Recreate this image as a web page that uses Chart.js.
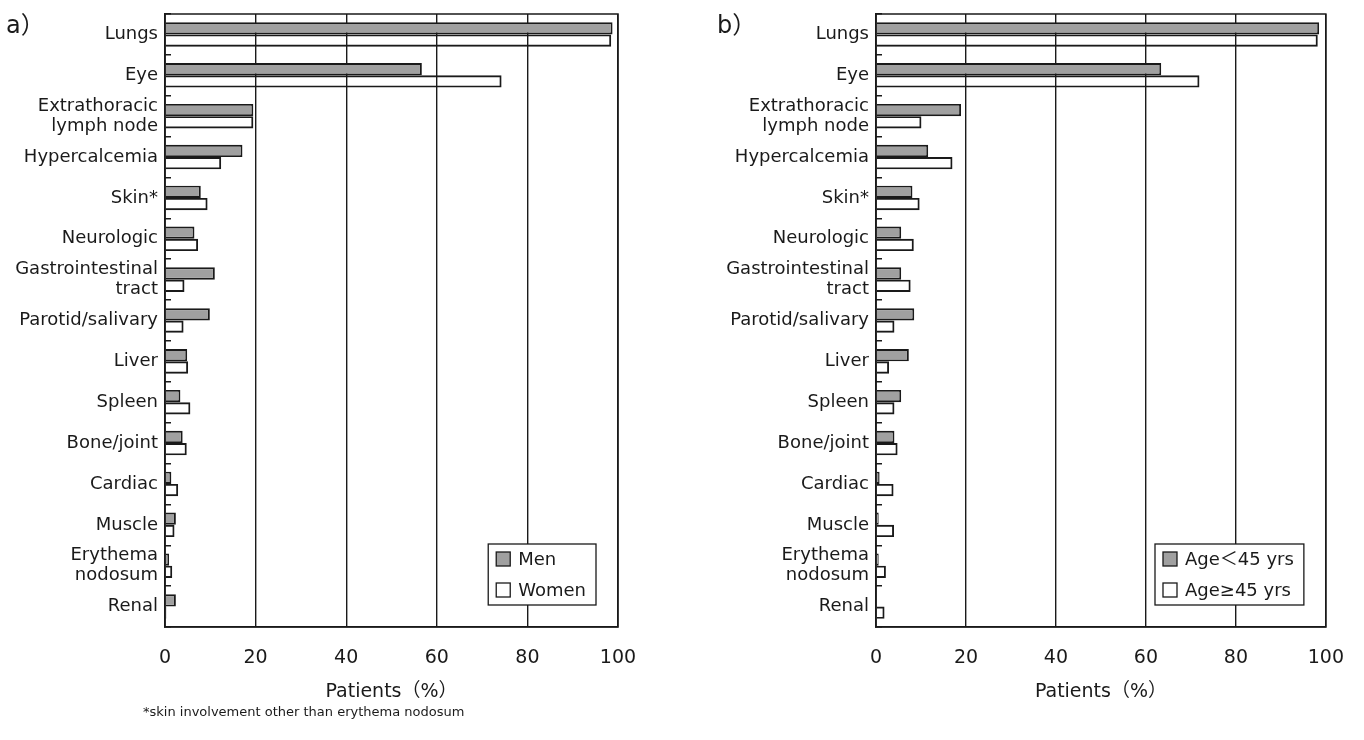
<!DOCTYPE html>
<html>
<head>
<meta charset="utf-8">
<script src="https://cdn.jsdelivr.net/npm/chart.js@4.4.1/dist/chart.umd.min.js"></script>
<style>
  body { margin: 0; background: #fff; }
  #wrap { position: relative; width: 1364px; height: 740px; overflow: hidden; }
  canvas { position: absolute; top: 0; }
  .tag { position: absolute; font: 24px "DejaVu Sans", "Noto Sans CJK JP", sans-serif; color: #1a1a1a; line-height: 24px; }
  .note { position: absolute; left: 143px; top: 704px; font: 13px "DejaVu Sans", sans-serif; color: #1a1a1a; line-height: 15px; }
</style>
</head>
<body>
<div id="wrap">
  <canvas id="chartA" width="682" height="740" style="left:0"></canvas>
  <canvas id="chartB" width="654" height="740" style="left:710px"></canvas>
  <div class="tag" style="left:6px;top:13px">a）</div>
  <div class="tag" style="left:717px;top:13px">b）</div>
  <div class="note">*skin involvement other than erythema nodosum</div>
</div>
<script>
// categories (top to bottom)
const organs = ["Lungs", "Eye", ["Extrathoracic", "lymph node"], "Hypercalcemia", "Skin*",
  "Neurologic", ["Gastrointestinal", "tract"], "Parotid/salivary", "Liver", "Spleen",
  "Bone/joint", "Cardiac", "Muscle", ["Erythema", "nodosum"], "Renal"];

// a) by sex, % of patients
const men   = [98.8, 56.7, 19.5, 17.1, 7.9, 6.5, 11.0, 9.9, 4.9, 3.4, 3.9, 1.4, 2.4, 0.9, 2.4];
const women = [98.5, 74.3, 19.5, 12.4, 9.4, 7.3, 4.3, 4.1, 5.1, 5.6, 4.8, 2.9, 2.1, 1.6, 0.3];

// b) by age, % of patients
const under45 = [98.5, 63.4, 18.9, 11.6, 8.1, 5.6, 5.6, 8.5, 7.3, 5.6, 4.1, 0.8, 0.6, 0.6, 0];
const over45  = [98.2, 71.9, 10.1, 17.0, 9.7, 8.4, 7.7, 4.1, 2.9, 4.1, 4.8, 3.9, 4.0, 2.2, 1.9];

const xTicks = [0, 20, 40, 60, 80, 100];

const FONT = '"DejaVu Sans", "Noto Sans CJK JP", sans-serif';
const INK = "#1a1a1a";
const GRAY = "#a0a0a0";

// box round the plot (top edge isn't drawn by any axis)
const framePlugin = {
  id: "frame",
  afterDatasetsDraw(chart) {
    const { ctx, chartArea: a } = chart;
    ctx.save();
    ctx.strokeStyle = INK;
    ctx.lineWidth = 1.5;
    ctx.strokeRect(a.left, a.top, a.right - a.left, a.bottom - a.top);
    ctx.restore();
  }
};

// legend in a box, bottom right inside the plot
const boxLegend = {
  id: "boxLegend",
  afterDraw(chart) {
    const { ctx, chartArea: a } = chart;
    const sets = chart.data.datasets;
    ctx.save();
    ctx.font = "18px " + FONT;
    const textW = Math.max(...sets.map(d => ctx.measureText(d.label).width));
    const w = 32 + textW + 8, h = 61, rowH = 31;
    const x = a.right - 22 - w, y = a.bottom - 22 - h;
    ctx.fillStyle = "#fff";
    ctx.fillRect(x, y, w, h);
    ctx.strokeStyle = INK;
    ctx.lineWidth = 1.3;
    ctx.strokeRect(x, y, w, h);
    sets.forEach((d, i) => {
      const cy = y + 15 + i * rowH;
      ctx.fillStyle = d.legendFill;
      ctx.fillRect(x + 8, cy - 7, 14, 14);
      ctx.strokeRect(x + 8, cy - 7, 14, 14);
      ctx.fillStyle = INK;
      ctx.textBaseline = "middle";
      ctx.fillText(d.label, x + 30, cy + 1);
    });
    ctx.restore();
  }
};

function makeChart(id, names, first, second, yWidth, padRight) {
  return new Chart(document.getElementById(id), {
    type: "bar",
    data: {
      labels: organs,
      datasets: [
        { label: names[0], data: first, backgroundColor: GRAY, legendFill: GRAY,
          borderColor: INK, borderWidth: 1.9 },
        { label: names[1], data: second, backgroundColor: "rgba(0,0,0,0)", legendFill: "#fff",
          borderColor: INK, borderWidth: 1.9 }
      ]
    },
    options: {
      indexAxis: "y",
      responsive: false,
      animation: false,
      layout: { padding: { top: 14, right: padRight, bottom: 0, left: 0 } },
      categoryPercentage: 0.6,
      barPercentage: 1.0,
      plugins: { legend: { display: false }, tooltip: { enabled: false } },
      scales: {
        x: {
          min: 0, max: 100,
          afterBuildTicks: s => { s.ticks = xTicks.map(v => ({ value: v })); },
          afterFit: s => { s.height = 113; },
          grid: { color: INK, lineWidth: 1.4, drawTicks: false },
          border: { color: INK, width: 1.5 },
          ticks: { padding: 20, color: INK, font: { family: FONT, size: 19 } },
          title: { display: true, text: "Patients（%）", color: INK,
                   font: { family: FONT, size: 19 }, padding: { top: 0, bottom: 37 } }
        },
        y: {
          afterFit: s => { s.width = yWidth; s.paddingTop = 0; s.paddingBottom = 0; },
          grid: { drawOnChartArea: false, drawTicks: true, tickLength: -6, color: INK, lineWidth: 1.5 },
          border: { color: INK, width: 1.5 },
          ticks: { padding: 13, color: INK, autoSkip: false,
                   font: { family: FONT, size: 18, lineHeight: 1.1 } }
        }
      }
    },
    plugins: [framePlugin, boxLegend]
  });
}

makeChart("chartA", ["Men", "Women"], men, women, 165, 64);
makeChart("chartB", ["Age＜45 yrs", "Age≥45 yrs"], under45, over45, 166, 34);
</script>
</body>
</html>
